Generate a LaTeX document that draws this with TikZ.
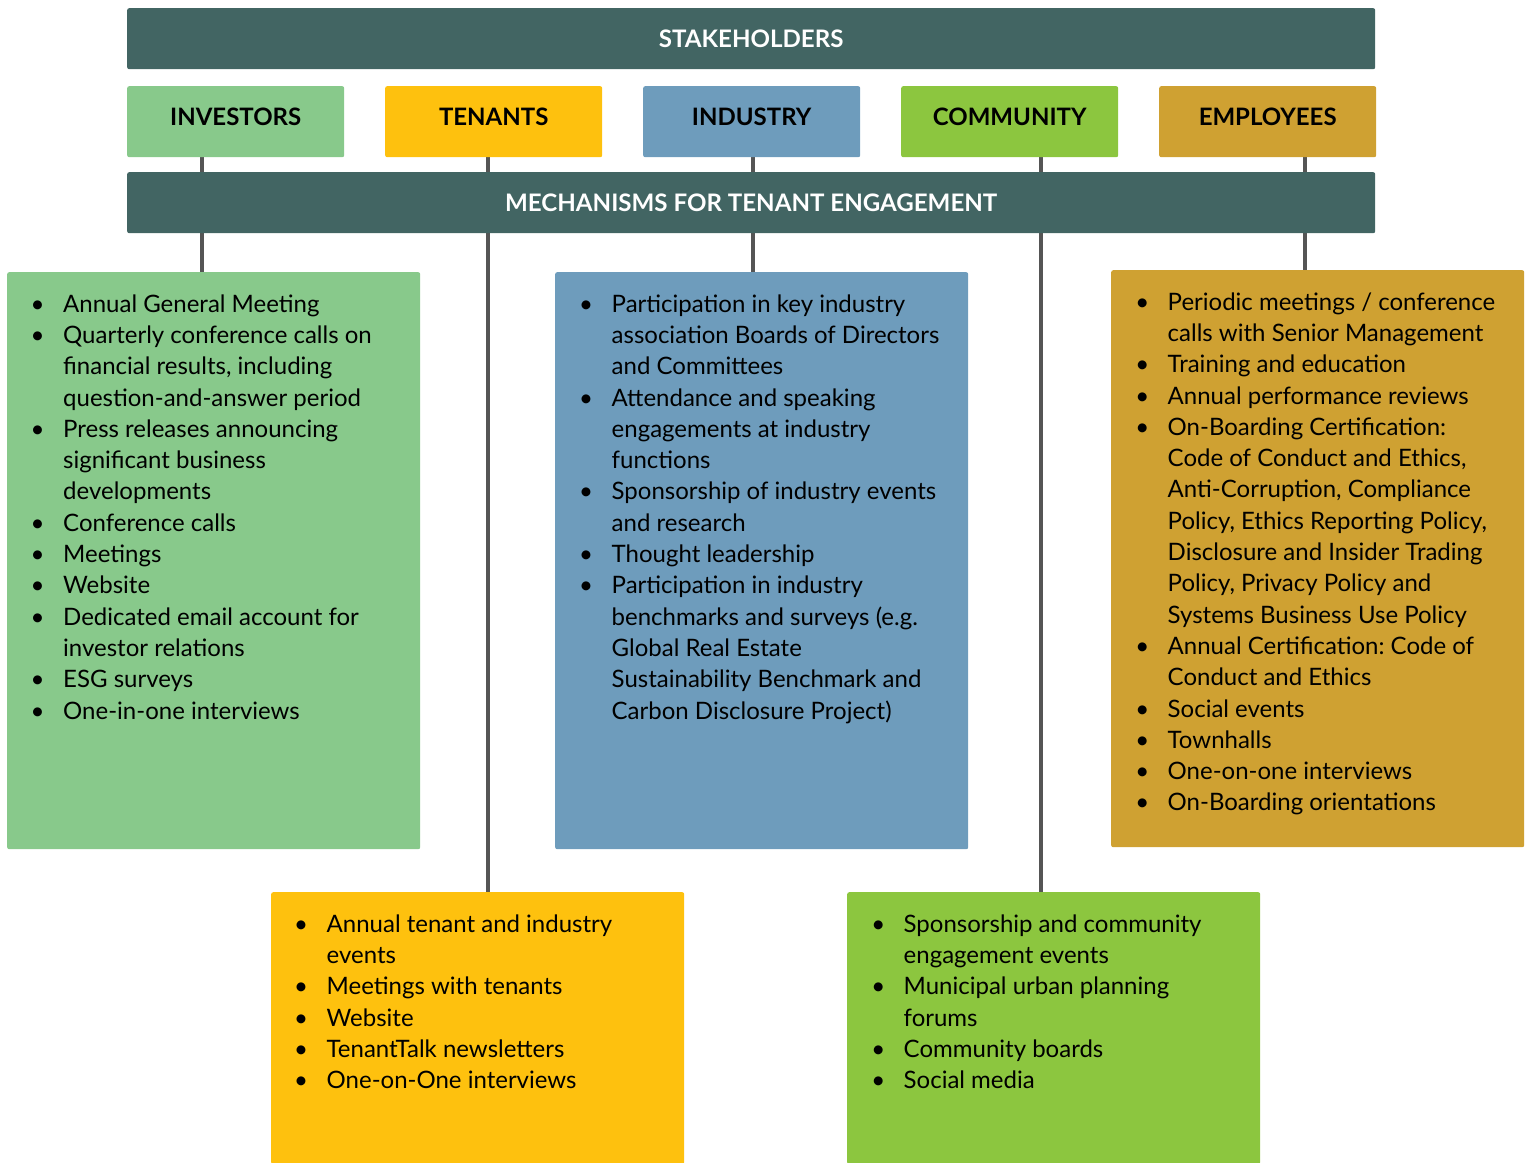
\documentclass[tikz,border=0pt]{standalone}
\usepackage{fontspec}
\setmainfont{Lato}
\frenchspacing
\definecolor{dteal}{HTML}{426563}
\definecolor{cinv}{HTML}{88C98B}
\definecolor{cten}{HTML}{FEC10E}
\definecolor{cind}{HTML}{6E9CBC}
\definecolor{ccom}{HTML}{8CC63F}
\definecolor{cemp}{HTML}{CFA132}
\definecolor{cline}{HTML}{555555}
\pgfdeclarelayer{bg}
\pgfsetlayers{bg,main}
\newcommand\bi{\makebox[12pt][c]{\textbullet}\hspace{19.5pt}}
\newcommand\ci{\hspace*{31.5pt}}
\tikzset{
  hdr/.style={fill=dteal, rounded corners=2pt, text=white, anchor=north west,
    font=\bfseries\fontsize{24.1}{28}\selectfont, minimum width=1248pt,
    minimum height=61pt, inner sep=0pt, text height=17pt, text depth=0pt},
  cat/.style={rounded corners=2pt, anchor=north west, inner sep=0pt,
    font=\bfseries\fontsize{24}{28}\selectfont, minimum width=217pt,
    minimum height=71pt, text height=18pt, text depth=11pt},
  panel/.style={rounded corners=2pt, anchor=north west, inner sep=0pt,
    minimum width=413pt},
  blist/.style={anchor=north west, inner sep=0pt, align=left,
    font=\fontsize{24}{31.3}\selectfont},
  conn/.style={draw=cline, line width=3.3pt}
}
\begin{document}
\begin{tikzpicture}[x=1pt,y=-1pt]
\useasboundingbox (0,0) rectangle (1531,1162);
% header bars
\node[hdr] (stake) at (127,8) {STAKEHOLDERS};
\node[hdr] (mech) at (127,172) {MECHANISMS FOR TENANT ENGAGEMENT};
% categories
\node[cat, fill=cinv] (inv) at (127,86) {INVESTORS};
\node[cat, fill=cten] (ten) at (385,86) {TENANTS};
\node[cat, fill=cind] (ind) at (643,86) {INDUSTRY};
\node[cat, fill=ccom] (com) at (901,86) {COMMUNITY};
\node[cat, fill=cemp] (emp) at (1159,86) {EMPLOYEES};
% panels
\node[panel, fill=cinv, minimum height=577pt] (invp) at (7,272) {};
\node[panel, fill=cind, minimum height=577pt] (indp) at (555,272) {};
\node[panel, fill=cemp, minimum height=577pt] (empp) at (1111,270) {};
\node[panel, fill=cten, minimum height=272pt] (tenp) at (271,892) {};
\node[panel, fill=ccom, minimum height=272pt] (comp) at (847,892) {};
% lists
\node[blist] (invt) at (31.5,290) {\strut\bi Annual General Meeting\\
\bi Quarterly conference calls on\\
\ci financial results, including\\
\ci question-and-answer period\\
\bi Press releases announcing\\
\ci significant business\\
\ci developments\\
\bi Conference calls\\
\bi Meetings\\
\bi Website\\
\bi Dedicated email account for\\
\ci investor relations\\
\bi ESG surveys\\
\bi One-in-one interviews};
\node[blist] (indt) at (580,290) {\strut\bi Participation in key industry\\
\ci association Boards of Directors\\
\ci and Committees\\
\bi Attendance and speaking\\
\ci engagements at industry\\
\ci functions\\
\bi Sponsorship of industry events\\
\ci and research\\
\bi Thought leadership\\
\bi Participation in industry\\
\ci benchmarks and surveys (e.g.\\
\ci Global Real Estate\\
\ci Sustainability Benchmark and\\
\ci Carbon Disclosure Project)};
\node[blist] (empt) at (1136,288) {\strut\bi Periodic meetings / conference\\
\ci calls with Senior Management\\
\bi Training and education\\
\bi Annual performance reviews\\
\bi On-Boarding Certification:\\
\ci Code of Conduct and Ethics,\\
\ci Anti-Corruption, Compliance\\
\ci Policy, Ethics Reporting Policy,\\
\ci Disclosure and Insider Trading\\
\ci Policy, Privacy Policy and\\
\ci Systems Business Use Policy\\
\bi Annual Certification: Code of\\
\ci Conduct and Ethics\\
\bi Social events\\
\bi Townhalls\\
\bi One-on-one interviews\\
\bi On-Boarding orientations};
\node[blist] (tent) at (295,910) {\strut\bi Annual tenant and industry\\
\ci events\\
\bi Meetings with tenants\\
\bi Website\\
\bi TenantTalk newsletters\\
\bi One-on-One interviews};
\node[blist] (comt) at (872,910) {\strut\bi Sponsorship and community\\
\ci engagement events\\
\bi Municipal urban planning\\
\ci forums\\
\bi Community boards\\
\bi Social media};
% connectors
\begin{pgfonlayer}{bg}
\draw[conn] (202,0 |- inv.south) -- (202,0 |- invp.north);
\draw[conn] (488,0 |- ten.south) -- (488,0 |- tenp.north);
\draw[conn] (753,0 |- ind.south) -- (753,0 |- indp.north);
\draw[conn] (1041,0 |- com.south) -- (1041,0 |- comp.north);
\draw[conn] (1305,0 |- emp.south) -- (1305,0 |- empp.north);
\end{pgfonlayer}
\end{tikzpicture}
\end{document}
